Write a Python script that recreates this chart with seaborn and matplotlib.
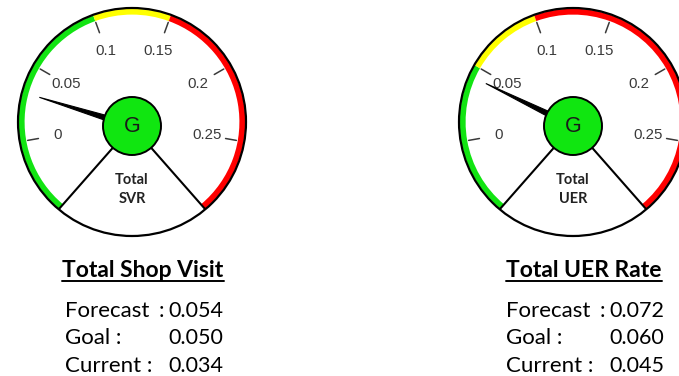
import numpy as np
import pandas as pd
import matplotlib
matplotlib.use("Agg")
import matplotlib.pyplot as plt
from matplotlib.patches import Circle, Wedge, Polygon
import seaborn as sns

# ---- gauge data ----
titles = ["Total Shop Visit", "Total UER Rate"]
hub_top = ["Total", "Total"]
hub_bottom = ["SVR", "UER"]
status = ["G", "G"]
forecast = [0.054, 0.072]
goal = [0.050, 0.060]
current = [0.034, 0.045]
green_end = [0.10, 0.05]
yellow_end = [0.15, 0.10]
tick_values = [0, 0.05, 0.10, 0.15, 0.20, 0.25]
tick_labels = ["0", "0.05", "0.1", "0.15", "0.2", "0.25"]
row_labels = ["Forecast", "Goal :", "Current :"]
scale_min, scale_max = -0.05, 0.30

# ---- layout (pixel space, y up) ----
W, H = 679, 376
centers_x = [132, 573]
ring_y = H - 122
hub_dy = -4
R = 114
hub_r = 29
band_w = 6
start_deg, end_deg = 230, -50

GREEN = "#12e412"
HUB_GREEN = "#10e610"
YELLOW = "#ffff00"
RED = "#ff0000"
TICK_C = "#3a3a3a"


def angle(v):
    return start_deg + (v - scale_min) / (scale_max - scale_min) * (end_deg - start_deg)


def polar(cx, cy, r, deg):
    a = np.deg2rad(deg)
    return cx + r * np.cos(a), cy + r * np.sin(a)


sns.set_theme(style="white")
plt.rcParams["font.family"] = ["Liberation Sans", "DejaVu Sans"]

fig = plt.figure(figsize=(W / 100, H / 100), dpi=100)
ax = fig.add_axes([0, 0, 1, 1])
ax.set_xlim(0, W)
ax.set_ylim(0, H)
ax.axis("off")

title_texts = []
for i, cx in enumerate(centers_x):
    cy = ring_y
    hx, hy = cx, cy + hub_dy

    # dial face and rim
    ax.add_patch(Circle((cx, cy), R, facecolor="white", edgecolor="none", zorder=1))
    bands = [(scale_min, green_end[i], GREEN),
             (green_end[i], yellow_end[i], YELLOW),
             (yellow_end[i], scale_max, RED)]
    for v0, v1, col in bands:
        ax.add_patch(Wedge((cx, cy), R - 0.6, angle(v1), angle(v0), width=band_w,
                           facecolor=col, edgecolor="none", zorder=2))
    ax.add_patch(Circle((cx, cy), R, facecolor="none", edgecolor="black", lw=1.6, zorder=3))

    # tick marks and radial edges drawn as segments
    segs = []
    for k, v in enumerate(tick_values):
        a = angle(v)
        x0, y0 = polar(cx, cy, R - 19, a)
        x1, y1 = polar(cx, cy, R - 8, a)
        segs += [dict(x=x0, y=y0, seg=k), dict(x=x1, y=y1, seg=k)]
    sns.lineplot(data=pd.DataFrame(segs), x="x", y="y", units="seg", estimator=None,
                 sort=False, color=TICK_C, lw=1.1, ax=ax, zorder=4)

    edges = []
    for k, v in enumerate([scale_min, scale_max]):
        ex, ey = polar(cx, cy, R - 1, angle(v))
        d = np.hypot(ex - hx, ey - hy)
        sx, sy = hx + (ex - hx) * hub_r / d, hy + (ey - hy) * hub_r / d
        edges += [dict(x=sx, y=sy, seg=k), dict(x=ex, y=ey, seg=k)]
    sns.lineplot(data=pd.DataFrame(edges), x="x", y="y", units="seg", estimator=None,
                 sort=False, color="black", lw=1.5, ax=ax, zorder=4)

    for v, lab in zip(tick_values, tick_labels):
        tx, ty = polar(cx, cy, R - 38, angle(v))
        ax.text(tx, ty, lab, ha="center", va="center", fontsize=10.8,
                color=TICK_C, zorder=5)

    # needle at current value
    a = np.deg2rad(angle(current[i]))
    tip = (hx + 97 * np.cos(a), hy + 97 * np.sin(a))
    px, py = -np.sin(a), np.cos(a)
    needle = Polygon([tip, (hx + 3.5 * px, hy + 3.5 * py), (hx - 3.5 * px, hy - 3.5 * py)],
                     closed=True, facecolor="black", edgecolor="black", lw=0.8, zorder=6)
    ax.add_patch(needle)

    # hub
    ax.add_patch(Circle((hx, hy), hub_r, facecolor=HUB_GREEN, edgecolor="black",
                        lw=1.4, zorder=7))
    ax.text(hx, hy - 1, status[i], ha="center", va="center", fontsize=15.5,
            color="#1a1a1a", zorder=8)

    # name inside the lower wedge
    ax.text(cx, H - 180, hub_top[i], ha="center", va="center", fontsize=10.5,
            fontweight="bold", family="Lato", color="#222222", zorder=5)
    ax.text(cx, H - 199, hub_bottom[i], ha="center", va="center", fontsize=10.5,
            fontweight="bold", family="Lato", color="#222222", zorder=5)

    # summary block
    t = ax.text(cx + 11, H - 277, titles[i], ha="center", va="baseline", fontsize=16.5,
                fontweight="bold", family="Lato", color="black")
    title_texts.append(t)
    for j, (lab, val) in enumerate(zip(row_labels, [forecast[i], goal[i], current[i]])):
        base = H - [317, 344, 372][j]
        ax.text(cx - 67, base, lab, ha="left", va="baseline", fontsize=16,
                family="Lato", color="black")
        if j == 0:
            ax.text(cx + 29, base, ":", ha="center", va="baseline", fontsize=16,
                    family="Lato", color="black")
        ax.text(cx + 91, base, f"{val:.3f}", ha="right", va="baseline", fontsize=15.5,
                family="Lato", color="black")

# underline the summary titles
fig.canvas.draw()
inv = ax.transData.inverted()
for t in title_texts:
    bb = t.get_window_extent()
    (x0, _), (x1, _) = inv.transform([(bb.x0, bb.y0), (bb.x1, bb.y1)])
    ax.plot([x0, x1], [H - 280.5, H - 280.5], color="black", lw=1.4)

fig.savefig("out.png", dpi=100)
